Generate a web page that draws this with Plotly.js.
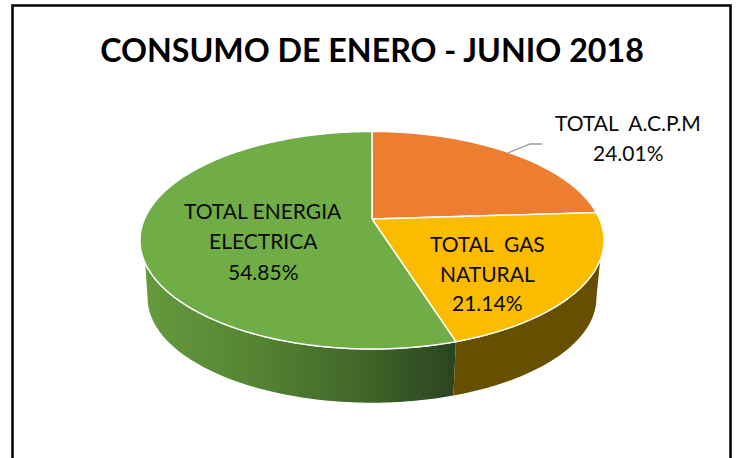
<!DOCTYPE html>
<html><head><meta charset="utf-8">
<script src="https://cdn.plot.ly/plotly-3.0.1.min.js"></script>
<style>html,body{margin:0;padding:0;background:#fff;overflow:hidden}</style>
</head><body><div id="chart" style="width:737px;height:458px"></div>
<script>
// Data
const chartTitle = 'CONSUMO DE ENERO - JUNIO 2018';
const categories = ['TOTAL A.C.P.M', 'TOTAL GAS NATURAL', 'TOTAL ENERGIA ELECTRICA'];
const shares = [24.01, 21.14, 54.85];
const labelLines = [['TOTAL\u00A0 A.C.P.M'], ['TOTAL\u00A0 GAS', 'NATURAL'], ['TOTAL ENERGIA', 'ELECTRICA']];

// Styles
const sliceColors = ['#ed7d31', '#fbbc00', '#70ad47'];
const FONT = 'Lato, "Open Sans", sans-serif';

// 3D-pie projection parameters (perspective view of a cylinder)
const CX = 372, APEX_Y = 219, PX = 227.5, PY = 104.6, PERSP = -0.1954;
const BASE_SCALE = 0.97, BASE_APEX_Y = 277.2;

function project(deg, base) {
  const t = deg * Math.PI / 180, u = Math.sin(t), v = -Math.cos(t), d = 1 + PERSP * v;
  const s = base ? BASE_SCALE : 1;
  return [CX + s * PX * u / d, (base ? BASE_APEX_Y : APEX_Y) + s * PY * v / d];
}
function arc(a, b, base) {
  const n = Math.max(2, Math.ceil(Math.abs(b - a))), pts = [];
  for (let i = 0; i <= n; i++) pts.push(project(a + (b - a) * i / n, base));
  return pts;
}
const total = shares.reduce((a, b) => a + b, 0);
const edges = [0];
shares.forEach(v => edges.push(edges[edges.length - 1] + v / total * 360));

function poly(pts, extra) {
  return Object.assign({
    type: 'scatter', mode: 'lines', x: pts.map(p => p[0]), y: pts.map(p => p[1]),
    fill: 'toself', hoverinfo: 'skip', showlegend: false
  }, extra);
}
const white = w => ({color: '#ffffff', width: w, simplify: false});

// Side walls
const wallGreen = arc(edges[2], 248, false).concat(arc(258.7, edges[2], true));
const wallYellow = arc(edges[2], 110, false).concat(arc(101.3, edges[2], true));
const traces = [
  poly(wallGreen, {name: categories[2] + ' lateral', line: white(1.2), fillcolor: '#4b7330',
    fillgradient: {type: 'horizontal', colorscale: [[0, '#659a3e'], [0.35, '#558433'], [0.7, '#41662a'], [1, '#294420']]}}),
  poly(wallYellow, {name: categories[1] + ' lateral', line: white(1.2), fillcolor: '#665000'})
];
// Top slices
shares.forEach((v, i) => {
  const pts = [[CX, APEX_Y]].concat(arc(edges[i], edges[i + 1], false), [[CX, APEX_Y]]);
  traces.push(poly(pts, {name: categories[i], line: white(1.4), fillcolor: sliceColors[i]}));
});

// Labels
const labelX = [628, 487, 263];
const labelY = [[122, 152], [243, 273, 302], [210, 240, 271]];
const annotations = [];
shares.forEach((v, i) => {
  labelLines[i].concat(v.toFixed(2) + '%').forEach((txt, j) => annotations.push({
    xref: 'x', yref: 'y', x: labelX[i], y: labelY[i][j], text: txt, showarrow: false,
    xanchor: 'center', yanchor: 'middle', font: {family: FONT, size: 21, color: '#0a0a0a'}
  }));
});

const layout = {
  width: 737, height: 458, margin: {l: 0, r: 0, t: 0, b: 0},
  paper_bgcolor: '#ffffff', plot_bgcolor: '#ffffff', showlegend: false,
  title: {text: '<b>' + chartTitle + '</b>', x: 372 / 737, xanchor: 'center', xref: 'paper',
    y: 1 - 51 / 458, yref: 'paper', yanchor: 'middle', font: {family: FONT, size: 32.2, color: '#000000'}},
  xaxis: {range: [0, 737], visible: false, fixedrange: true},
  yaxis: {range: [458, 0], visible: false, fixedrange: true},
  annotations: annotations,
  shapes: [
    {type: 'rect', xref: 'x', yref: 'y', x0: 12.5, y0: 5.5, x1: 730.5, y1: 480, line: {color: '#000000', width: 2.5}, layer: 'below'},
    {type: 'path', xref: 'x', yref: 'y', path: 'M508,153 L530,144 L542,144', line: {color: '#999999', width: 1.3}}
  ]
};
Plotly.newPlot('chart', traces, layout, {displayModeBar: false, staticPlot: true});
</script></body></html>
